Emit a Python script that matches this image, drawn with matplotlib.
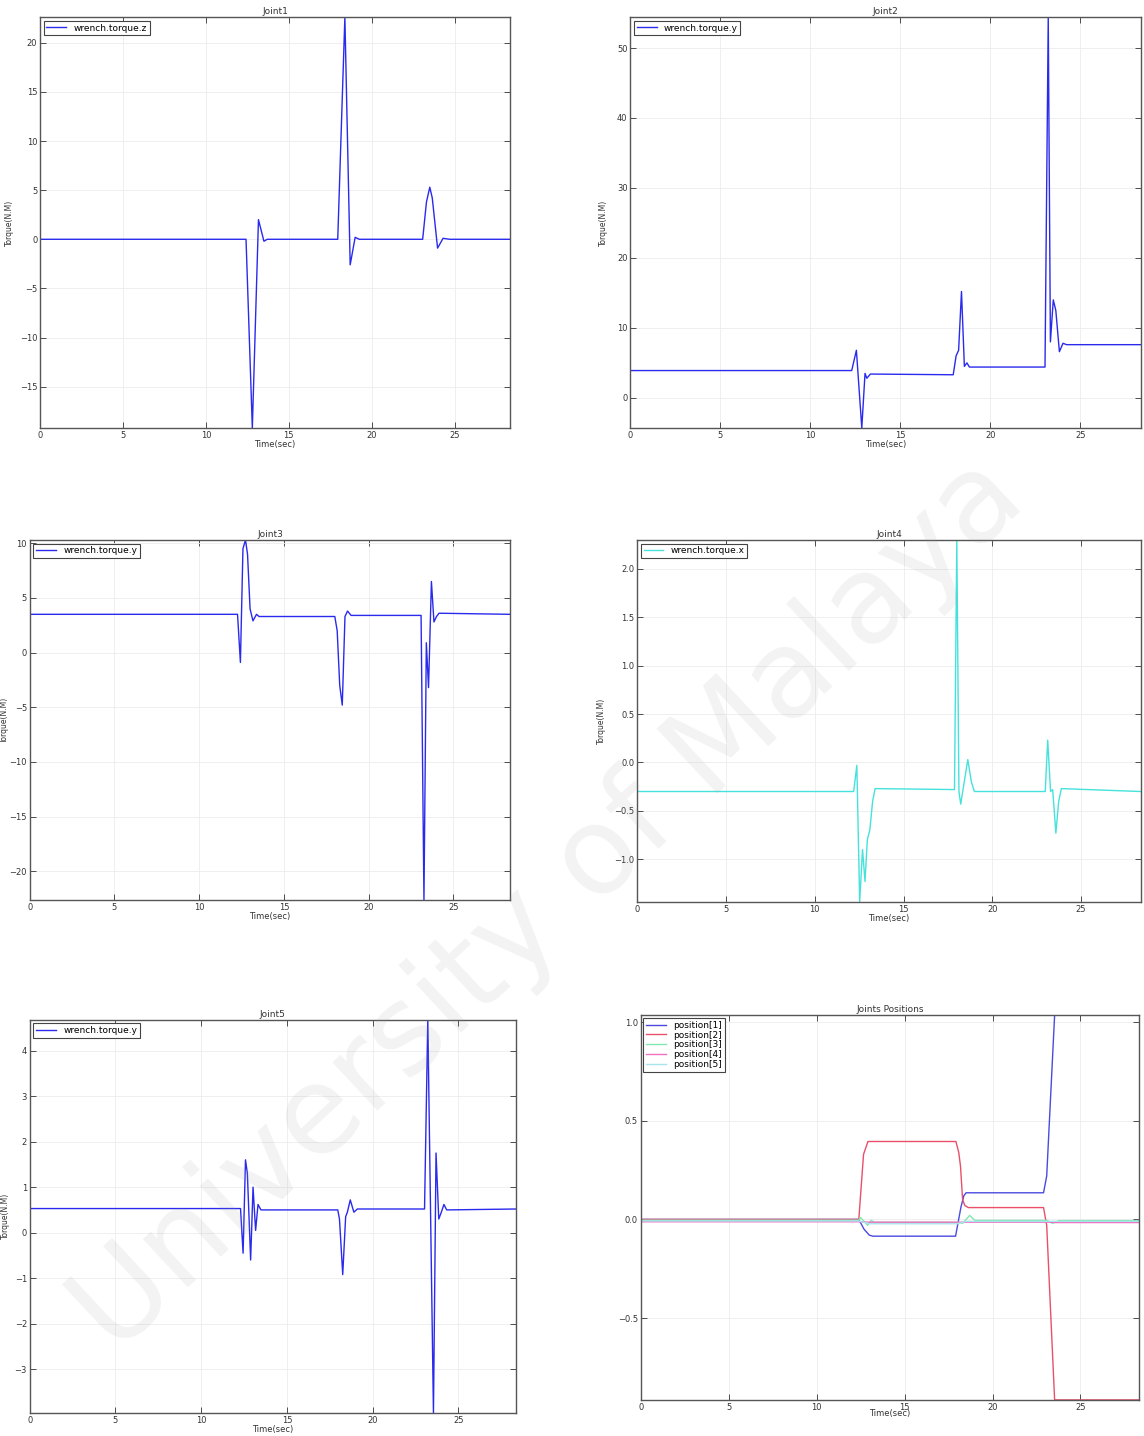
import numpy as np
import matplotlib
matplotlib.use("Agg")
import matplotlib.pyplot as plt

# ---- torque samples (time in s, torque in N.M) ----
t_j1 = [0, 12.42, 12.8, 13.17, 13.5, 13.7, 17.95, 18.38, 18.7, 19.0, 19.25,
        23.07, 23.3, 23.5, 23.65, 23.97, 24.3, 24.7, 28.35]
tq_j1 = [0, 0, -19.2, 2.0, -0.2, 0, 0, 22.6, -2.6, 0.2, 0,
         0, 3.8, 5.3, 4.2, -0.9, 0.1, 0, 0]

t_j2 = [0, 12.3, 12.56, 12.86, 13.04, 13.14, 13.34, 17.94, 18.1, 18.24, 18.4,
        18.56, 18.7, 18.84, 23.04, 23.22, 23.34, 23.5, 23.64, 23.84, 24.04,
        24.24, 28.35]
tq_j2 = [3.9, 3.9, 6.8, -4.3, 3.5, 2.8, 3.4, 3.3, 6.0, 6.8, 15.2,
         4.5, 5.0, 4.4, 4.4, 54.4, 8.0, 14.0, 12.5, 6.6, 7.8,
         7.6, 7.6]

t_j3 = [0, 12.26, 12.43, 12.58, 12.73, 12.85, 13.0, 13.17, 13.38, 13.53,
        18.0, 18.14, 18.29, 18.44, 18.6, 18.75, 18.96, 23.09, 23.26, 23.4,
        23.53, 23.7, 23.85, 24.0, 24.15, 28.35]
tq_j3 = [3.5, 3.5, -0.9, 9.5, 10.3, 9.0, 4.0, 2.9, 3.5, 3.3,
         3.3, 2.0, -3.0, -4.8, 3.3, 3.8, 3.4, 3.4, -22.65, 0.9,
         -3.2, 6.5, 2.8, 3.3, 3.6, 3.5]

t_j4 = [0, 12.19, 12.37, 12.53, 12.69, 12.83, 12.96, 13.1, 13.26, 13.4,
        17.87, 18.0, 18.12, 18.22, 18.42, 18.62, 18.82, 18.99, 22.98, 23.12,
        23.28, 23.4, 23.58, 23.74, 23.89, 28.35]
tq_j4 = [-0.3, -0.3, -0.03, -1.44, -0.9, -1.23, -0.8, -0.7, -0.4, -0.27,
         -0.28, 2.3, -0.3, -0.43, -0.2, 0.03, -0.2, -0.3, -0.3, 0.23,
         -0.3, -0.28, -0.73, -0.4, -0.27, -0.3]

t_j5 = [0, 12.29, 12.44, 12.58, 12.69, 12.88, 13.02, 13.17, 13.31, 13.48,
        17.96, 18.06, 18.25, 18.42, 18.52, 18.69, 18.9, 19.1, 23.02, 23.21,
        23.54, 23.69, 23.85, 24.0, 24.15, 24.31, 28.35]
tq_j5 = [0.53, 0.53, -0.45, 1.6, 1.3, -0.6, 1.0, 0.05, 0.62, 0.5,
         0.5, 0.3, -0.92, 0.35, 0.45, 0.72, 0.45, 0.52, 0.52, 4.68,
         -3.96, 1.75, 0.3, 0.45, 0.62, 0.5, 0.52]

# ---- joint positions ----
t_p1 = [0, 12.4, 12.7, 13.0, 13.2, 17.9, 18.2, 18.37, 18.5, 22.9, 23.08, 23.53, 28.35]
p1 = [0, 0, -0.05, -0.08, -0.085, -0.085, 0.06, 0.12, 0.135, 0.135, 0.22, 1.035, 1.035]

t_p2 = [0, 12.4, 12.67, 12.92, 17.92, 18.08, 18.18, 18.3, 18.43, 18.63, 22.9, 23.08, 23.53, 28.35]
p2 = [0, 0, 0.33, 0.395, 0.395, 0.34, 0.27, 0.1, 0.07, 0.06, 0.06, -0.03, -0.915, -0.915]

t_p3 = [0, 12.4, 12.5, 12.9, 13.1, 13.3, 18.1, 18.3, 18.7, 19.0, 23.1, 23.4, 23.8, 28.35]
p3 = [-0.004, -0.004, 0.01, -0.03, -0.005, -0.015, -0.015, -0.02, 0.02, -0.005, -0.005, -0.02, -0.006, -0.006]

t_p4 = [0, 12.4, 13.0, 23.2, 23.6, 28.35]
p4 = [-0.012, -0.012, -0.014, -0.014, -0.016, -0.016]

t_p5 = [0, 12.4, 13.0, 18.0, 18.5, 28.35]
p5 = [-0.008, -0.008, -0.022, -0.022, -0.01, -0.01]

titles = ["Joint1", "Joint2", "Joint3", "Joint4", "Joint5"]
labels = ["wrench.torque.z", "wrench.torque.y", "wrench.torque.y",
          "wrench.torque.x", "wrench.torque.y"]
pos_labels = ["position[1]", "position[2]", "position[3]", "position[4]", "position[5]"]

plt.rcParams["font.family"] = "DejaVu Sans"
plt.rcParams["xtick.direction"] = "in"
plt.rcParams["ytick.direction"] = "in"
plt.rcParams["xtick.top"] = True
plt.rcParams["ytick.right"] = True

fig = plt.figure(figsize=(11.44, 14.36), dpi=100)

# axes rectangles [left, bottom, width, height] in figure fraction
rects = [
    [0.035, 0.702, 0.411, 0.286],
    [0.551, 0.702, 0.446, 0.286],
    [0.026, 0.373, 0.420, 0.251],
    [0.557, 0.372, 0.440, 0.252],
    [0.026, 0.016, 0.425, 0.274],
    [0.560, 0.025, 0.436, 0.268],
]
# y label x-position in axes fraction
ylab_x = [-0.055, -0.043, -0.043, -0.062, -0.041]

series = [(t_j1, tq_j1), (t_j2, tq_j2), (t_j3, tq_j3), (t_j4, tq_j4), (t_j5, tq_j5)]
colors = ["#2a2aee", "#2a2aee", "#2a2aee", "#45e2dc", "#2a2aee"]


def style(ax):
    ax.grid(True, color="#ececec", linestyle="-", linewidth=0.6)
    ax.tick_params(labelsize=6, length=4, width=0.6, pad=2, colors="#333333")
    for sp in ax.spines.values():
        sp.set_color("#555555")
        sp.set_linewidth(1.0)


def add_legend(ax, **kw):
    leg = ax.legend(loc="upper left", fontsize=6.5, fancybox=False, framealpha=1,
                    handlelength=2.2, borderpad=0.3, **kw)
    leg.get_frame().set_edgecolor("#444444")
    leg.get_frame().set_linewidth(0.8)


for i in range(5):
    ax = fig.add_axes(rects[i])
    t, y = series[i]
    ax.plot(t, y, color=colors[i], lw=1.0, label=labels[i])
    ax.set_xlim(0, 28.35)
    ax.set_ylim(min(y), max(y))
    ax.set_title(titles[i], fontsize=6.5, pad=2, color="#333333")
    ax.set_xlabel("Time(sec)", fontsize=6, labelpad=0, color="#333333")
    ax.set_ylabel("Torque(N.M)", fontsize=5.5, color="#333333")
    ax.yaxis.set_label_coords(ylab_x[i], 0.5)
    style(ax)
    add_legend(ax, borderaxespad=0.4)

# joint positions
ax = fig.add_axes(rects[5])
pos_series = [(t_p1, p1), (t_p2, p2), (t_p3, p3), (t_p4, p4), (t_p5, p5)]
pos_colors = ["#4a4ae0", "#e8506a", "#80e8b0", "#f070c0", "#a8e4ee"]
for (t, y), c, lab in zip(pos_series, pos_colors, pos_labels):
    ax.plot(t, y, color=c, lw=1.0, label=lab)
ax.set_xlim(0, 28.35)
ax.set_ylim(-0.916, 1.035)
ax.set_yticks([-0.5, 0.0, 0.5, 1.0])
ax.set_title("Joints Positions", fontsize=6.5, pad=2, color="#333333")
ax.set_xlabel("Time(sec)", fontsize=6, labelpad=-2, color="#333333")
style(ax)
add_legend(ax, borderaxespad=0.3, labelspacing=0.1)

# institution watermark across the page
fig.text(0.48, 0.37, "University of Malaya", fontsize=88, color="#9a9a9a", alpha=0.12,
         rotation=43, ha="center", va="center", zorder=10)

fig.savefig("out.png", dpi=100, facecolor="white")
